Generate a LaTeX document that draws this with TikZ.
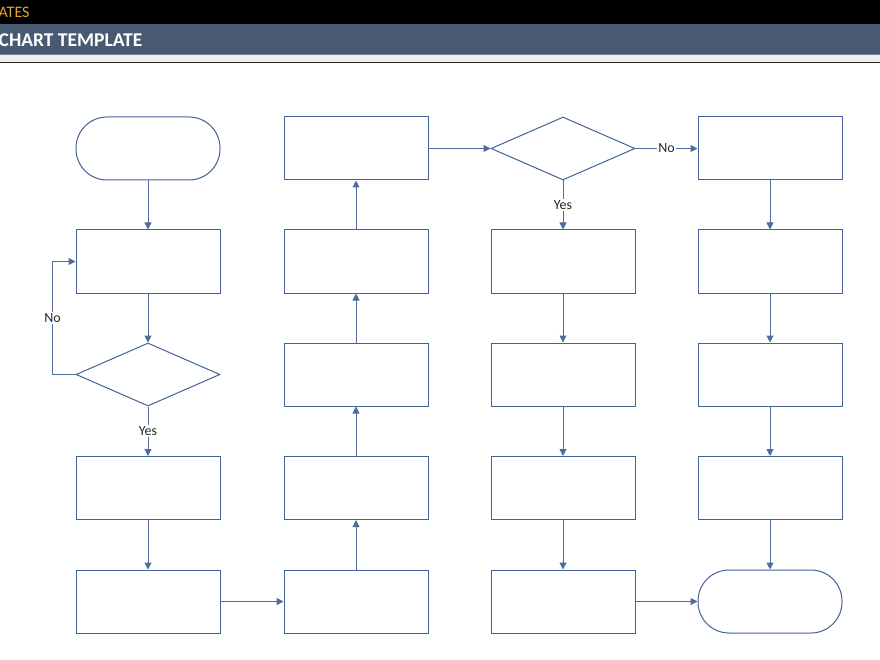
\documentclass[tikz,border=0pt]{standalone}
\usepackage{fontspec}
\setmainfont{Carlito}
\usetikzlibrary{arrows.meta,shapes.geometric}
\definecolor{boxc}{HTML}{44639B}
\definecolor{linec}{HTML}{4F6C9C}
\definecolor{hdr}{HTML}{475A72}
\definecolor{gold}{HTML}{DDA834}
\tikzset{
  procbox/.style={draw=boxc,line width=1pt,rectangle,minimum width=144pt,minimum height=63pt,inner sep=0pt,fill=white},
  termbox/.style={procbox,rounded corners=31pt},
  decbox/.style={draw=boxc,line width=1pt,diamond,minimum width=144pt,minimum height=63pt,inner sep=0pt,fill=white},
  conn/.style={draw=linec,line width=1pt,-{Triangle[length=7pt,width=7pt]}},
  lbl/.style={fill=white,inner sep=1.5pt,font=\fontsize{14}{14}\selectfont,text=black!85}
}
\begin{document}
\begin{tikzpicture}[x=1pt,y=-1pt]
\useasboundingbox (0,0) rectangle (880,660);
\fill[white] (0,0) rectangle (880,660);
% header
\fill[black] (0,0) rectangle (880,24);
\fill[hdr] (0,24) rectangle (880,54);
\fill[hdr!70!white] (0,54) rectangle (880,55.5);
\fill[black!6] (0,55.5) rectangle (880,62);
\draw[black!85,line width=1.5pt] (0,62.5) -- (880,62.5);
\node[anchor=west,inner sep=0pt,text=gold,font=\fontsize{16}{16}\selectfont] (t1) at (-1.5,12.5) {ATES};
\node[anchor=west,inner sep=0pt,text=white,font=\bfseries\fontsize{19.5}{19.5}\selectfont] (t2) at (-1.5,40.5) {CHART TEMPLATE};
% column 1
\node[termbox] (s) at (148,148.5) {};
\node[procbox] (a2) at (148,261.5) {};
\node[decbox] (d1) at (148,374.5) {};
\node[procbox] (a4) at (148,488) {};
\node[procbox] (a5) at (148,601.5) {};
% column 2
\node[procbox] (b1) at (356,148.5) {};
\node[procbox] (b2) at (356,261.5) {};
\node[procbox] (b3) at (356,374.5) {};
\node[procbox] (b4) at (356,488) {};
\node[procbox] (b5) at (356,601.5) {};
% column 3
\node[decbox] (d2) at (563,148.5) {};
\node[procbox] (c2) at (563,261.5) {};
\node[procbox] (c3) at (563,374.5) {};
\node[procbox] (c4) at (563,488) {};
\node[procbox] (c5) at (563,601.5) {};
% column 4
\node[procbox] (e1) at (770,148.5) {};
\node[procbox] (e2) at (770,261.5) {};
\node[procbox] (e3) at (770,374.5) {};
\node[procbox] (e4) at (770,488) {};
\node[termbox] (f) at (770,601.5) {};
% connectors
\draw[conn] (s) -- (a2);
\draw[conn] (a2) -- (d1);
\draw[conn] (d1.west) -- ++(-23,0) |- node[lbl,pos=0.25] {No} (a2.west);
\draw[conn] (d1) -- node[lbl] {Yes} (a4);
\draw[conn] (a4) -- (a5);
\draw[conn] (a5) -- (b5);
\draw[conn] (b5) -- (b4);
\draw[conn] (b4) -- (b3);
\draw[conn] (b3) -- (b2);
\draw[conn] (b2) -- (b1);
\draw[conn] (b1) -- (d2);
\draw[conn] (d2) -- node[lbl] {No} (e1);
\draw[conn] (d2) -- node[lbl] {Yes} (c2);
\draw[conn] (c2) -- (c3);
\draw[conn] (c3) -- (c4);
\draw[conn] (c4) -- (c5);
\draw[conn] (c5) -- (f);
\draw[conn] (e1) -- (e2);
\draw[conn] (e2) -- (e3);
\draw[conn] (e3) -- (e4);
\draw[conn] (e4) -- (f);
\end{tikzpicture}
\end{document}
